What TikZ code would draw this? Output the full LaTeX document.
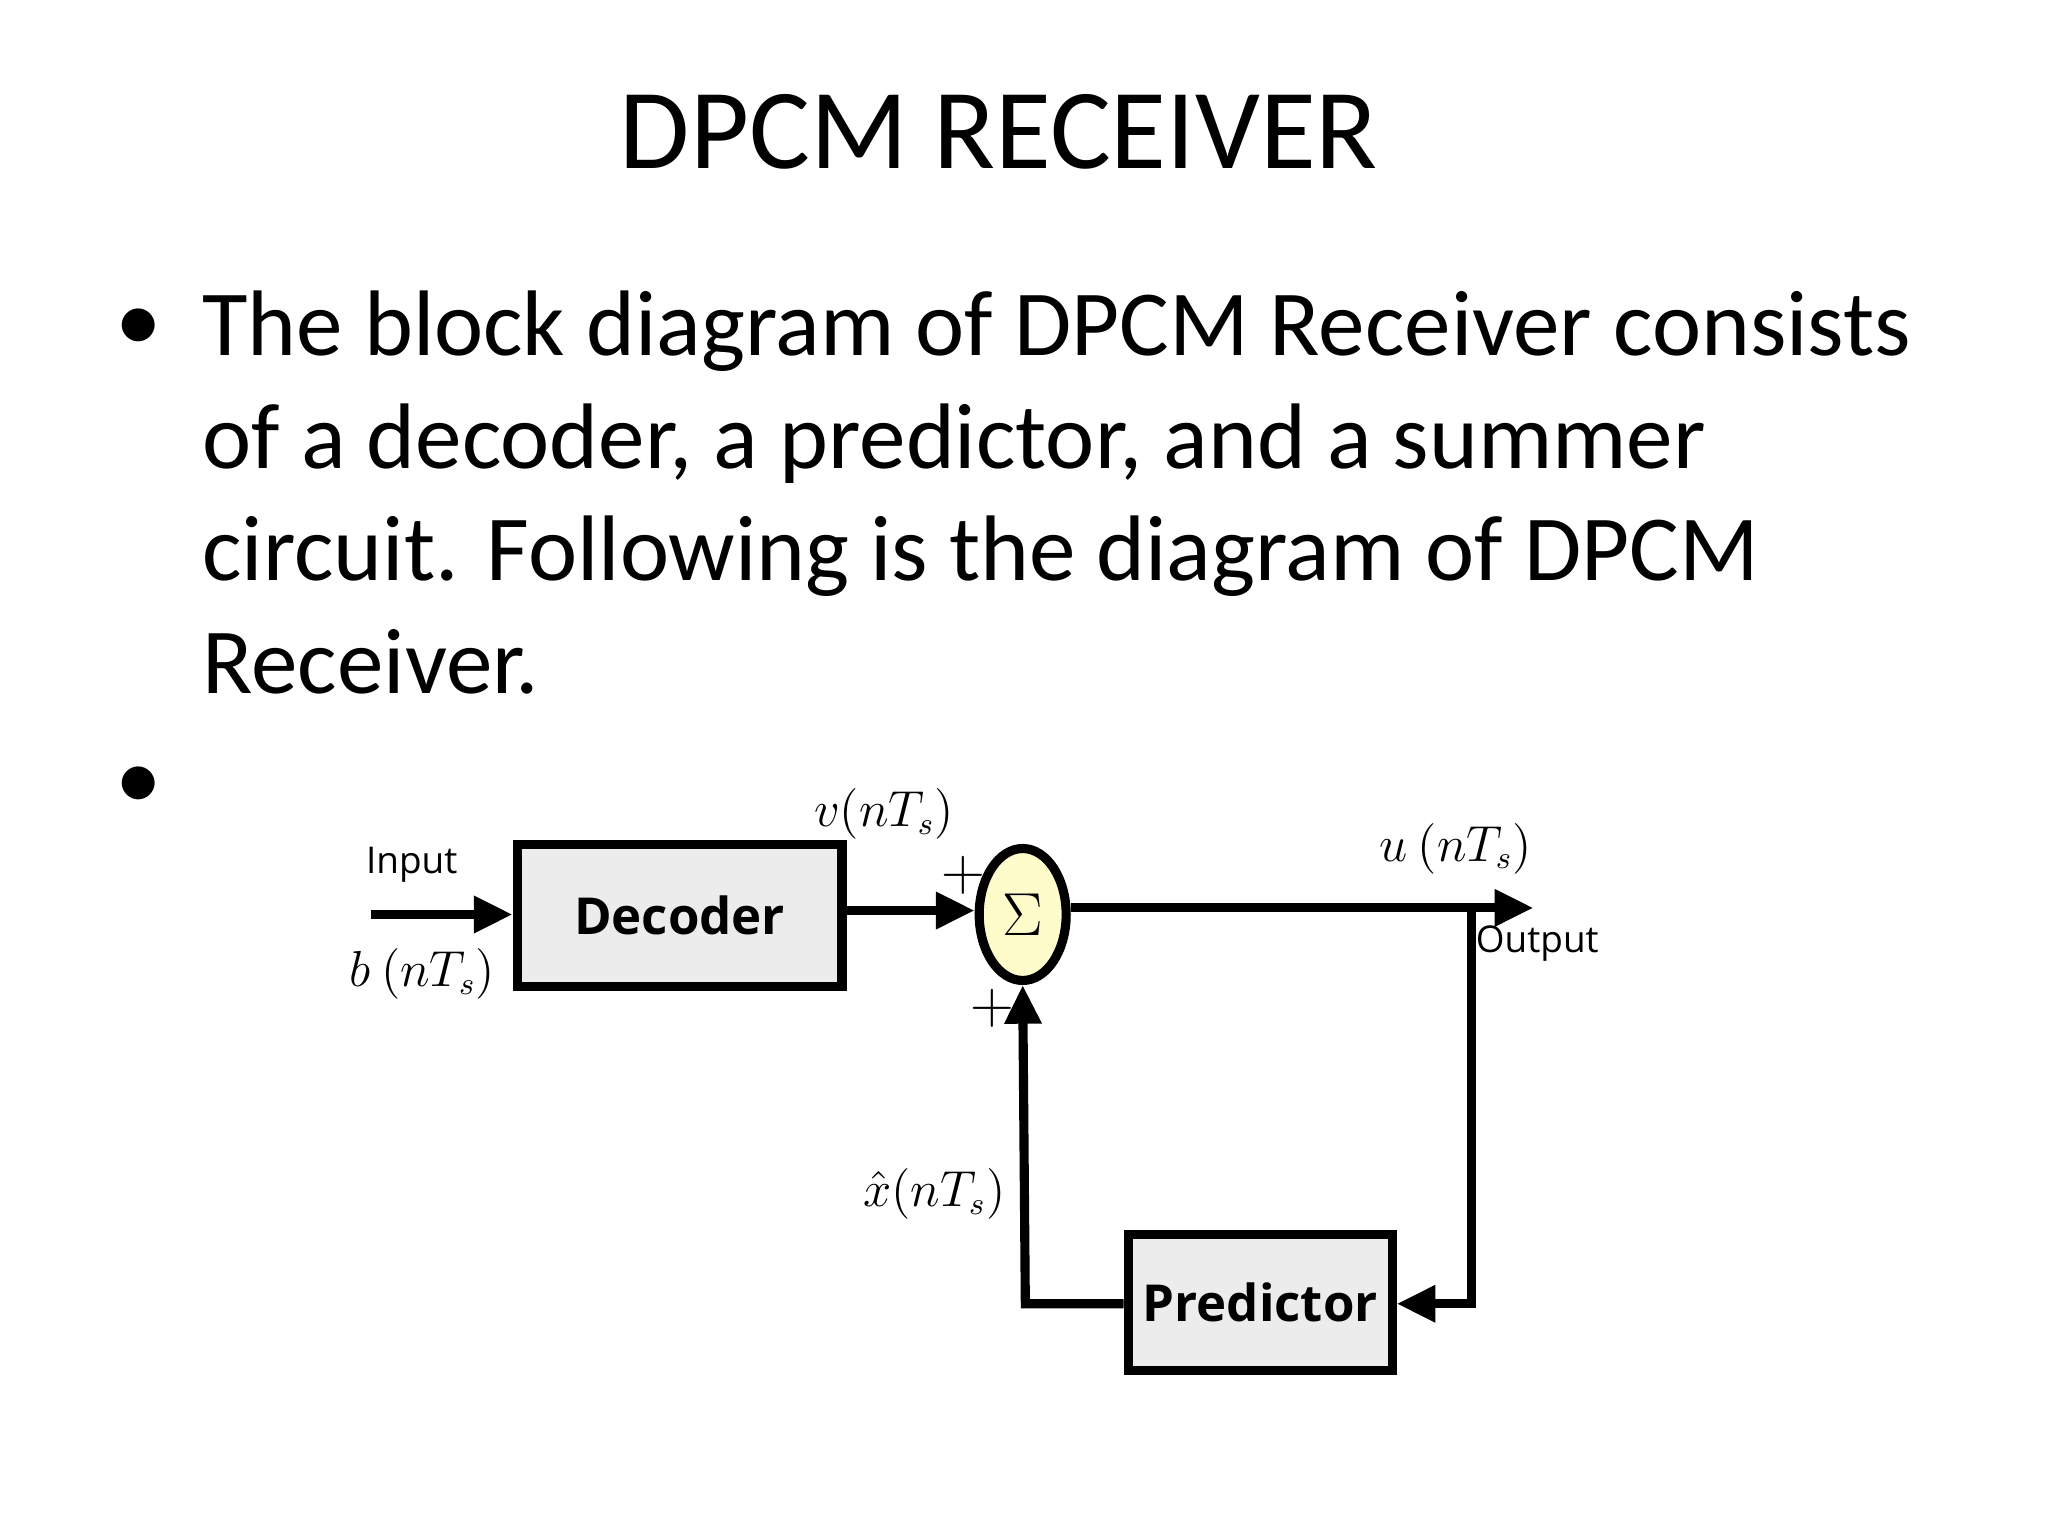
\documentclass[tikz,border=0pt]{standalone}
\usepackage{fontspec}
\setmainfont{Carlito}
\newfontfamily\diagfont{Open Sans}
\usetikzlibrary{arrows.meta,shapes.geometric}
\tikzset{
  blk/.style={draw=black, line width=2.6pt, fill=gray!15, inner sep=0pt, font=\diagfont\bfseries\fontsize{14.5}{18}\selectfont},
  sig/.style={line width=2.6pt, -{Triangle[length=11pt,width=10pt]}},
  lbl/.style={font=\fontsize{13.5}{16}\selectfont},
  slbl/.style={font=\diagfont\fontsize{10.5}{13}\selectfont},
}
\begin{document}
\begin{tikzpicture}[x=0.013196cm,y=-0.013196cm]
\useasboundingbox (0,0) rectangle (1552,1164);
\node[font=\fontsize{32.5}{38}\selectfont] (title) at (757,100) {DPCM RECEIVER};
\node[anchor=north west, align=left, font=\fontsize{26.5}{32}\selectfont, inner sep=0pt] (body) at (153,220)
  {The block diagram of DPCM Receiver consists\\ of a decoder, a predictor, and a summer\\ circuit. Following is the diagram of DPCM\\ Receiver.};
\node[font=\fontsize{26.5}{32}\selectfont] (b1) at (105,250) {•};
\node[font=\fontsize{26.5}{32}\selectfont] (b2) at (105,597) {•};

\node[blk, minimum width=3.25cm, minimum height=1.42cm] (dec) at (515,694) {Decoder};
\node[blk, minimum width=2.64cm, minimum height=1.36cm] (pred) at (955,987) {Predictor};
\node[ellipse, draw=black, line width=2.6pt, fill=yellow!20, minimum width=0.87cm, minimum height=1.32cm, inner sep=0pt, font=\fontsize{17}{20}\selectfont] (sum) at (775,693) {$\Sigma$};

\coordinate (in) at (281,693);
\coordinate (out) at (1162,688);
\coordinate (tap) at (1115,688);
\coordinate (c1) at (1115,988);
\coordinate (c2) at (777,988);

\draw[sig] (in) -- (dec.west |- in);
\draw[sig] (dec.east |- 0,690) -- (sum.west |- 0,690);
\draw[sig] (sum.east |- out) -- (out);
\draw[sig] (tap) -- (c1) -- (pred.east |- c1);
\draw[sig] (pred.west |- c2) -- (c2) -- (sum.south);

\node[slbl] (linput) at (312,655) {Input};
\node[lbl] (lb) at (320,738) {$b\ (nT_s)$};
\node[lbl] (lv) at (670,617) {$v(nT_s)$};
\node[font=\fontsize{18}{20}\selectfont] (p1) at (730,663) {$+$};
\node[font=\fontsize{18}{20}\selectfont] (p2) at (752,764) {$+$};
\node[lbl] (lu) at (1103,643) {$u\ (nT_s)$};
\node[slbl] (lout) at (1165,715) {Output};
\node[lbl] (lx) at (708,905) {$\hat{x}(nT_s)$};
\end{tikzpicture}
\end{document}
